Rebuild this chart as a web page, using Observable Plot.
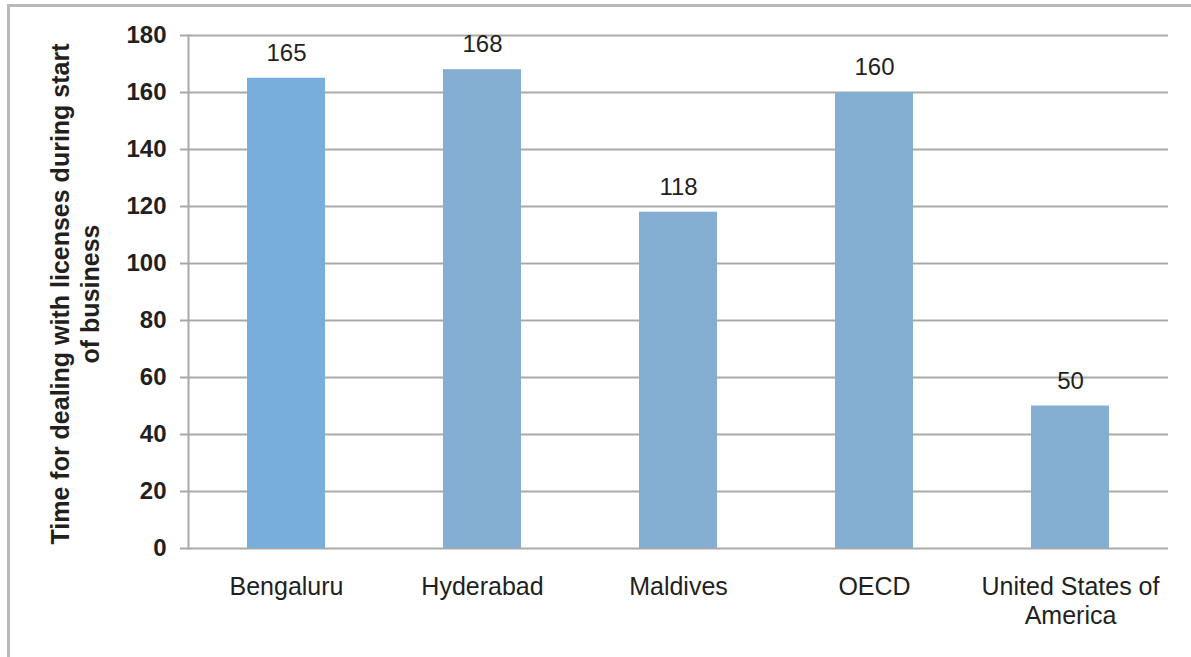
<!DOCTYPE html>
<html>
<head>
<meta charset="utf-8">
<script src="https://cdn.jsdelivr.net/npm/d3@7"></script>
<script src="https://cdn.jsdelivr.net/npm/@observablehq/plot@0.6"></script>
<style>
  html, body { margin: 0; padding: 0; background: #fff; overflow: hidden; }
  #wrap { position: relative; width: 1191px; height: 657px; }
  #border { position: absolute; left: 7px; top: 4px; width: 1300px; height: 800px;
            border: 3px solid #b9b9b9; pointer-events: none; }
  #chart { position: absolute; left: 0; top: 0; }
</style>
</head>
<body>
<div id="wrap">
  <div id="chart"></div>
  <div id="border"></div>
</div>
<script>
const categories = ["Bengaluru", "Hyderabad", "Maldives", "OECD", "United States of America"];
const values = [165, 168, 118, 160, 50];
const tickLabels = ["Bengaluru", "Hyderabad", "Maldives", "OECD", "United States of\nAmerica"];
const barColors = ["#78AEDC", "#85AED3", "#85AED3", "#85AED3", "#85AED3"];
const yTicks = [0, 20, 40, 60, 80, 100, 120, 140, 160, 180];
const yTitle = "Time for dealing with licenses during start\nof business";

const data = categories.map((c, i) => ({category: c, value: values[i], color: barColors[i]}));

const gridColor = "#a9a9a9";
const textColor = "#231f20";

const chart = Plot.plot({
  width: 1191,
  height: 657,
  marginLeft: 188,
  marginRight: 23,
  marginTop: 35,
  marginBottom: 109,
  style: {fontFamily: "'Liberation Sans', Arial, sans-serif", background: "transparent", color: textColor},
  x: {domain: categories, paddingInner: 0.6, paddingOuter: 0.3, axis: null},
  y: {domain: [0, 180], axis: null},
  color: {type: "identity"},
  marks: [
    Plot.ruleY(yTicks, {stroke: gridColor, strokeWidth: 2}),
    Plot.axisY({ticks: yTicks, tickSize: 8, tickPadding: 14, fontSize: 24, fontWeight: "bold",
                stroke: gridColor, strokeWidth: 2, fill: textColor, label: null}),
    Plot.frame({anchor: "left", stroke: gridColor, strokeWidth: 2}),
    Plot.barY(data, {x: "category", y: "value", fill: "color"}),
    Plot.text(data, {x: "category", y: "value", text: d => String(d.value), dy: -25,
                     fontSize: 24, fill: textColor}),
    Plot.axisX({tickSize: 0, tickPadding: 26, fontSize: 25, lineHeight: 1.16, fill: textColor,
                tickFormat: d => tickLabels[categories.indexOf(d)], label: null}),
    Plot.text([yTitle], {frameAnchor: "left", textAnchor: "middle", rotate: -90, dx: -114, dy: 2,
                         fontSize: 25, fontWeight: "bold", lineHeight: 1.2, fill: textColor, text: d => d})
  ]
});
document.getElementById("chart").appendChild(chart);
</script>
</body>
</html>
